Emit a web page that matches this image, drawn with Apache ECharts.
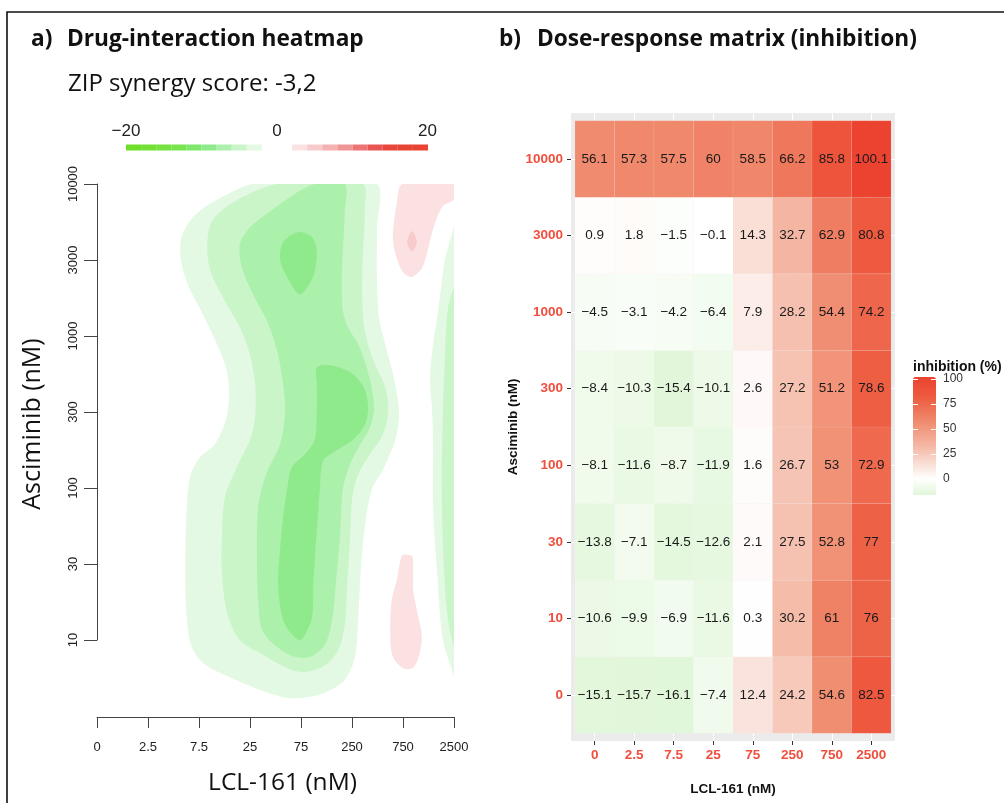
<!DOCTYPE html>
<html>
<head>
<meta charset="utf-8">
<script src="https://cdn.jsdelivr.net/npm/echarts@6/dist/echarts.min.js"></script>
<style>
  html, body { margin: 0; padding: 0; background: #ffffff; }
  #chart { width: 1004px; height: 803px; }
</style>
</head>
<body>
<div id="chart"></div>
<script>
// Dose levels (axis tick labels)
const lclDoses = ['0', '2.5', '7.5', '25', '75', '250', '750', '2500'];
const asciminibDoses = ['0', '10', '30', '100', '300', '1000', '3000', '10000'];

// Inhibition (%) per Asciminib dose, across LCL-161 doses
const inhib0     = [-15.1, -15.7, -16.1, -7.4, 12.4, 24.2, 54.6, 82.5];
const inhib10    = [-10.6, -9.9, -6.9, -11.6, 0.3, 30.2, 61, 76];
const inhib30    = [-13.8, -7.1, -14.5, -12.6, 2.1, 27.5, 52.8, 77];
const inhib100   = [-8.1, -11.6, -8.7, -11.9, 1.6, 26.7, 53, 72.9];
const inhib300   = [-8.4, -10.3, -15.4, -10.1, 2.6, 27.2, 51.2, 78.6];
const inhib1000  = [-4.5, -3.1, -4.2, -6.4, 7.9, 28.2, 54.4, 74.2];
const inhib3000  = [0.9, 1.8, -1.5, -0.1, 14.3, 32.7, 62.9, 80.8];
const inhib10000 = [56.1, 57.3, 57.5, 60, 58.5, 66.2, 85.8, 100.1];

// ZIP synergy contour regions, in dose-index units (x: LCL-161, y: Asciminib)
const antagonismBand1 = [[3.06,7.0],[4.3,7.0],[5.49,7.0],[5.49,6.41],[5.49,5.75],[5.53,5.25],[5.65,4.9],[5.78,4.57],[5.9,4.17],[5.92,3.91],[5.84,3.62],[5.61,3.25],[5.39,2.99],[5.27,2.59],[5.18,2.0],[5.12,1.28],[5.06,0.79],[4.86,0.49],[4.47,0.32],[3.98,0.25],[3.65,0.26],[3.1,0.38],[2.51,0.55],[2.08,0.71],[1.84,0.95],[1.75,1.41],[1.73,1.93],[1.75,2.59],[1.82,3.14],[2.02,3.41],[2.31,3.58],[2.53,3.91],[2.59,4.24],[2.53,4.59],[2.31,4.96],[2.02,5.36],[1.78,5.68],[1.65,5.99],[1.65,6.28],[1.82,6.51],[2.12,6.7],[2.57,6.87]];
const antagonismBand2 = [[3.53,7.0],[4.4,7.0],[5.22,7.0],[5.25,6.66],[5.2,5.78],[5.22,5.22],[5.31,4.9],[5.45,4.63],[5.63,4.37],[5.71,4.11],[5.67,3.84],[5.55,3.64],[5.35,3.45],[5.12,3.18],[5.0,2.86],[4.96,2.33],[4.9,1.67],[4.86,1.21],[4.73,0.88],[4.47,0.68],[4.08,0.59],[3.73,0.64],[3.25,0.82],[2.8,1.01],[2.55,1.37],[2.45,1.89],[2.45,2.33],[2.51,2.89],[2.75,3.29],[3.0,3.64],[3.1,3.93],[3.1,4.37],[3.0,4.76],[2.8,5.12],[2.47,5.51],[2.22,5.87],[2.16,6.21],[2.27,6.53],[2.75,6.79]];
const antagonismBand3 = [[4.27,7.0],[4.86,7.0],[4.86,6.66],[4.8,5.78],[4.82,5.34],[4.92,5.12],[5.12,4.9],[5.27,4.63],[5.39,4.3],[5.43,4.04],[5.35,3.8],[5.16,3.58],[4.96,3.32],[4.82,2.99],[4.76,2.33],[4.69,1.8],[4.61,1.28],[4.47,0.95],[4.18,0.79],[3.88,0.79],[3.55,0.91],[3.24,1.14],[3.16,1.54],[3.14,1.89],[3.16,2.76],[3.33,3.21],[3.59,3.58],[3.69,4.03],[3.63,4.46],[3.53,4.82],[3.33,5.21],[3.06,5.55],[2.84,5.91],[2.8,6.21],[3.0,6.43],[3.45,6.67],[3.88,6.87]];
const antagonismCoreUpper = [[3.98,6.37],[4.22,6.3],[4.31,6.11],[4.24,5.79],[3.98,5.55],[3.75,5.75],[3.59,6.01],[3.63,6.21],[3.78,6.32]];
const antagonismCoreLower = [[4.31,4.59],[4.57,4.62],[4.96,4.53],[5.22,4.34],[5.31,4.13],[5.29,3.91],[5.16,3.74],[4.96,3.61],[4.67,3.49],[4.43,3.36],[4.37,2.99],[4.33,2.63],[4.27,2.07],[4.24,1.76],[4.22,1.32],[4.08,1.08],[3.98,1.01],[3.78,1.12],[3.63,1.32],[3.55,1.76],[3.59,2.2],[3.65,2.63],[3.73,2.99],[3.82,3.28],[4.08,3.45],[4.27,3.64],[4.31,4.04],[4.31,4.37]];
const edgeBand1 = [[7.0,6.45],[6.96,6.34],[6.82,6.0],[6.69,5.34],[6.59,4.89],[6.53,4.46],[6.57,4.03],[6.59,3.58],[6.59,2.76],[6.67,1.89],[6.78,1.01],[6.96,0.62],[7.0,0.55],[7.0,2.0],[7.0,3.5],[7.0,5.0]];
const edgeBand2 = [[7.0,5.62],[6.88,5.36],[6.82,4.7],[6.78,3.91],[6.76,3.12],[6.78,2.33],[6.84,1.54],[6.92,1.14],[7.0,0.95],[7.0,2.5],[7.0,4.0]];
const synergyUpper = [[5.98,7.0],[6.5,7.0],[7.0,7.0],[7.0,6.8],[6.78,6.71],[6.59,6.41],[6.39,5.92],[6.18,5.78],[6.0,5.84],[5.84,6.11],[5.8,6.32],[5.88,6.76]];
const synergyPeak = [[6.18,6.38],[6.27,6.24],[6.18,6.11],[6.08,6.24]];
const synergyLower = [[6.0,2.13],[6.18,2.11],[6.2,1.97],[6.2,1.67],[6.27,1.41],[6.37,1.05],[6.29,0.75],[6.18,0.64],[6.0,0.64],[5.8,0.79],[5.75,1.11],[5.78,1.54],[5.88,1.8],[5.94,2.03]];

// Synergy level carried by each region
const regionLevels = [-1.1, -3.3, -5.6, -7.8, -7.8, -1.1, -3.3, 1.1, 3.3, 1.1];

const contourRegions = [antagonismBand1, antagonismBand2, antagonismBand3, antagonismCoreUpper,
  antagonismCoreLower, edgeBand1, edgeBand2, synergyUpper, synergyPeak, synergyLower];

// Synergy colour key: nine steps on each side of zero, from -20 to 20,
// with a blank slot around zero
const greenSteps = ['#6fdf2a', '#72e034', '#75e23f', '#78e44e', '#7ee66a', '#8fea8c', '#abf0ab', '#c9f5c9', '#e3f9e3'];
const redSteps = ['#fbe1e1', '#f7cbcb', '#f4b1b1', '#f09595', '#ec7474', '#e95454', '#e8463a', '#e84433', '#e84433'];
const stepSize = 20 / 9;
const blank = 'rgba(255,255,255,0)';
const synergyPieces = [];
greenSteps.forEach((c, k) => synergyPieces.push({ gt: -20 + k * stepSize, lte: -20 + (k + 1) * stepSize, color: c }));
synergyPieces.push({ gt: 0, lte: 0.01, color: blank });
synergyPieces.push({ gt: 0.01, lte: 0.02, color: blank });
redSteps.forEach((c, k) => synergyPieces.push({ gt: Math.max(0.02, k * stepSize), lte: (k + 1) * stepSize, color: c }));

// Inhibition colour ramp: green below zero, white at zero, red towards 100
const rampStops = [[-16.1, [225, 247, 217]], [0, [255, 255, 255]], [14.3, [249, 223, 214]], [32.7, [244, 182, 163]],
  [56.1, [240, 139, 111]], [80, [237, 91, 64]], [100.1, [236, 67, 48]]];
function rampColor(v) {
  for (let i = 1; i < rampStops.length; i++) {
    if (v <= rampStops[i][0] || i === rampStops.length - 1) {
      const [v0, c0] = rampStops[i - 1], [v1, c1] = rampStops[i];
      const t = Math.max(0, Math.min(1, (v - v0) / (v1 - v0)));
      const c = c0.map((a, j) => Math.round(a + (c1[j] - a) * t));
      return 'rgb(' + c.join(',') + ')';
    }
  }
}
const rampMin = -16.1, rampMax = 100.1;
const inhibitionColors = [];
for (let i = 0; i <= 116; i++) inhibitionColors.push(rampColor(rampMin + (rampMax - rampMin) * i / 116));

// Tile data: [LCL-161 position, Asciminib position, inhibition]
const inhibRows = [inhib0, inhib10, inhib30, inhib100, inhib300, inhib1000, inhib3000, inhib10000];
const tileData = [];
inhibRows.forEach((row, r) => row.forEach((v, c) => tileData.push([c + 1, r + 1, v])));

const fmtValue = v => String(v).replace('-', '\u2212');
const doseTicks = [1, 2, 3, 4, 5, 6, 7, 8];
const labelRed = '#f04f3d';

const chart = echarts.init(document.getElementById('chart'), null, { renderer: 'canvas' });

chart.setOption({
  animation: false,
  backgroundColor: '#ffffff',
  grid: [
    { left: 97, top: 184, width: 357, height: 533 },
    { left: 97, top: 184, width: 357, height: 456 },
    { left: 571, top: 113, width: 324, height: 628, show: true, backgroundColor: '#ebebeb', borderWidth: 0 },
    { left: 913, top: 379, width: 23, height: 100 }
  ],
  xAxis: [
    {
      gridIndex: 0, type: 'value', min: 0, max: 7, interval: 1,
      axisLine: { lineStyle: { color: '#444', width: 1 } },
      axisTick: { length: 11, lineStyle: { color: '#444', width: 1 } },
      axisLabel: { margin: 24, formatter: v => lclDoses[v], color: '#222', fontSize: 13, fontFamily: 'Liberation Sans' },
      splitLine: { show: false }
    },
    { gridIndex: 1, type: 'value', min: 0, max: 7, show: false },
    {
      gridIndex: 2, type: 'value', min: 0.4, max: 8.6,
      axisLine: { show: false },
      axisTick: { customValues: doseTicks, length: 4, lineStyle: { color: '#333' } },
      axisLabel: { customValues: doseTicks, margin: 7, formatter: v => lclDoses[Math.round(v) - 1], color: labelRed, fontWeight: 'bold', fontSize: 13.5, fontFamily: 'Liberation Sans' },
      splitLine: { show: true, lineStyle: { color: '#ffffff', width: 1 } },
      name: 'LCL-161 (nM)', nameLocation: 'middle', nameGap: 41,
      nameTextStyle: { fontWeight: 'bold', fontSize: 13.5, fontFamily: 'Liberation Sans', color: '#111' }
    },
    { gridIndex: 3, type: 'value', min: 0, max: 1, show: false }
  ],
  yAxis: [
    { gridIndex: 0, type: 'value', min: 0, max: 7, show: false },
    {
      gridIndex: 1, type: 'value', min: 1, max: 7, interval: 1,
      axisLine: { show: true, lineStyle: { color: '#444', width: 1 } },
      axisTick: { show: true, length: 13, lineStyle: { color: '#444', width: 1 } },
      axisLabel: { rotate: 90, margin: 17.5, formatter: v => asciminibDoses[v], color: '#222', fontSize: 13, fontFamily: 'Liberation Sans' },
      splitLine: { show: false }
    },
    {
      gridIndex: 2, type: 'value', min: 0.4, max: 8.6,
      axisLine: { show: false },
      axisTick: { show: true, customValues: doseTicks, length: 4, lineStyle: { color: '#333' } },
      axisLabel: { customValues: doseTicks, margin: 8, formatter: v => asciminibDoses[Math.round(v) - 1], color: labelRed, fontWeight: 'bold', fontSize: 13.5, fontFamily: 'Liberation Sans' },
      splitLine: { show: true, lineStyle: { color: '#ffffff', width: 1 } },
      name: 'Asciminib (nM)', nameLocation: 'middle', nameGap: 51, nameRotate: 90,
      nameTextStyle: { fontWeight: 'bold', fontSize: 13.5, fontFamily: 'Liberation Sans', color: '#111' }
    },
    {
      gridIndex: 3, type: 'value', min: 0, max: 100, interval: 25, position: 'left', z: 10,
      axisLine: { show: false },
      axisTick: { show: true, inside: true, length: 5, lineStyle: { color: '#ffffff', width: 1 } },
      axisLabel: { show: false }, splitLine: { show: false }
    },
    {
      gridIndex: 3, type: 'value', min: 0, max: 100, interval: 25, position: 'right', z: 10,
      axisLine: { show: false },
      axisTick: { show: true, inside: true, length: 5, lineStyle: { color: '#ffffff', width: 1 } },
      axisLabel: { margin: 7, color: '#333', fontSize: 12, fontFamily: 'Liberation Sans' },
      splitLine: { show: false }
    }
  ],
  visualMap: [
    {
      type: 'piecewise', orient: 'horizontal', seriesIndex: 0, dimension: 2,
      left: 126, top: 144.5, padding: 0, itemWidth: 15.1, itemHeight: 6, itemGap: 0,
      itemSymbol: 'rect', showLabel: false, selectedMode: false, hoverLink: false,
      pieces: synergyPieces
    },
    {
      type: 'continuous', seriesIndex: 1, dimension: 2, min: rampMin, max: rampMax,
      calculable: false, hoverLink: false, left: 913, top: 377, padding: 0,
      itemWidth: 23, itemHeight: 118, inRange: { color: inhibitionColors }
    }
  ],
  series: [
    {
      type: 'custom', xAxisIndex: 0, yAxisIndex: 0, clip: true, silent: true,
      data: contourRegions.map((ring, i) => [ring[0][0], ring[0][1], regionLevels[i], i]),
      encode: { x: 0, y: 1 },
      renderItem: (params, api) => {
        const ring = contourRegions[api.value(3)];
        const lo = api.coord([0, 7]);
        const hi = api.coord([7, 0]);
        return {
          type: 'polygon',
          shape: { points: ring.map(p => api.coord(p)), smooth: 0.3, smoothConstraint: [lo, hi] },
          style: { fill: api.visual('color'), stroke: null }
        };
      }
    },
    {
      type: 'custom', xAxisIndex: 2, yAxisIndex: 2, silent: true,
      data: tileData, encode: { x: 0, y: 1 },
      renderItem: (params, api) => {
        const c = api.value(0), r = api.value(1), v = api.value(2);
        const a = api.coord([c - 0.5, r + 0.5]);
        const b = api.coord([c + 0.5, r - 0.5]);
        return {
          type: 'group',
          children: [
            { type: 'rect', shape: { x: a[0], y: a[1], width: b[0] - a[0], height: b[1] - a[1] },
              style: { fill: api.visual('color'), stroke: 'rgba(255,255,255,0.15)', lineWidth: 0.6 } },
            { type: 'text', style: { x: (a[0] + b[0]) / 2, y: (a[1] + b[1]) / 2, text: fmtValue(v),
              align: 'center', verticalAlign: 'middle', fill: '#1a1a1a', fontSize: 13.5, fontFamily: 'Liberation Sans' } }
          ]
        };
      }
    }
  ],
  graphic: [
    { type: 'rect', silent: true, shape: { x: 7, y: 12, width: 1200, height: 1000 },
      style: { fill: 'none', stroke: '#111', lineWidth: 1.6 } },
    { type: 'text', x: 31, y: 40, style: { text: 'a)', font: 'bold 22.7px "Open Sans"', fill: '#111', verticalAlign: 'middle' } },
    { type: 'text', x: 67, y: 40, style: { text: 'Drug-interaction heatmap', font: 'bold 22.7px "Open Sans"', fill: '#111', verticalAlign: 'middle' } },
    { type: 'text', x: 68, y: 84, style: { text: 'ZIP synergy score: -3,2', font: '24px "Open Sans"', fill: '#111', verticalAlign: 'middle' } },
    { type: 'text', x: 499, y: 40, style: { text: 'b)', font: 'bold 22.7px "Open Sans"', fill: '#111', verticalAlign: 'middle' } },
    { type: 'text', x: 537, y: 40, style: { text: 'Dose-response matrix (inhibition)', font: 'bold 22.7px "Open Sans"', fill: '#111', verticalAlign: 'middle' } },
    { type: 'text', x: 126, y: 131, style: { text: '\u221220', font: '17px "Liberation Sans"', fill: '#222', align: 'center', verticalAlign: 'middle' } },
    { type: 'text', x: 277, y: 131, style: { text: '0', font: '17px "Liberation Sans"', fill: '#222', align: 'center', verticalAlign: 'middle' } },
    { type: 'text', x: 427.5, y: 131, style: { text: '20', font: '17px "Liberation Sans"', fill: '#222', align: 'center', verticalAlign: 'middle' } },
    { type: 'text', x: 282.5, y: 783, style: { text: 'LCL-161 (nM)', font: '24.5px "Open Sans"', fill: '#111', align: 'center', verticalAlign: 'middle' } },
    { type: 'text', x: 33, y: 424, rotation: Math.PI / 2, style: { text: 'Asciminib (nM)', font: '25px "Open Sans"', fill: '#111', align: 'center', verticalAlign: 'middle' } },
    { type: 'text', x: 913, y: 367, style: { text: 'inhibition (%)', font: 'bold 14px "Liberation Sans"', fill: '#111', verticalAlign: 'middle' } }
  ]
});
</script>
</body>
</html>
